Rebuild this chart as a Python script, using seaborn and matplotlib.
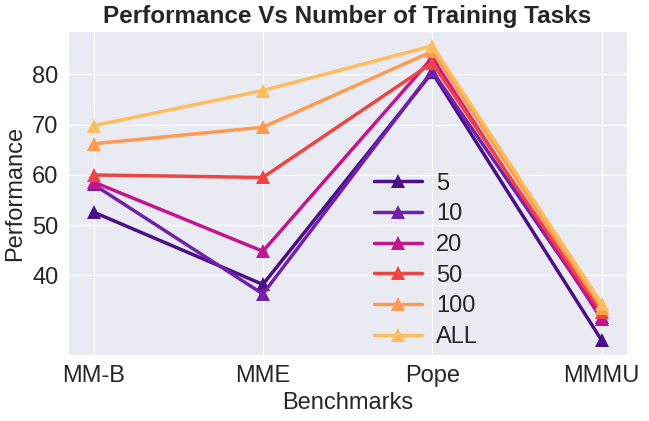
import pandas as pd
import matplotlib.pyplot as plt
import seaborn as sns

benchmarks = ["MM-B", "MME", "Pope", "MMMU"]
tasks = ["5", "10", "20", "50", "100", "ALL"]
perf_5 = [52.6, 38.2, 80.4, 27.1]
perf_10 = [58.1, 36.3, 80.7, 31.8]
perf_20 = [58.6, 44.8, 83.3, 31.3]
perf_50 = [60.0, 59.5, 82.3, 32.7]
perf_100 = [66.2, 69.5, 84.6, 33.6]
perf_all = [69.8, 76.8, 85.7, 34.4]
colors = ["#4b0f87", "#7122ad", "#c1168d", "#ef4444", "#fd9b50", "#ffbc5e"]

rows = []
for t, vals in zip(tasks, [perf_5, perf_10, perf_20, perf_50, perf_100, perf_all]):
    for b, v in zip(benchmarks, vals):
        rows.append({"Benchmarks": b, "Performance": v, "Tasks": t})
df = pd.DataFrame(rows)

sns.set_style("darkgrid")
plt.rcParams['font.family'] = ['Arial', 'Liberation Sans', 'DejaVu Sans']

fig, ax = plt.subplots(figsize=(6.49, 4.21), dpi=100)
sns.lineplot(data=df, x="Benchmarks", y="Performance", hue="Tasks",
             palette=colors, marker="^", markersize=10, markeredgewidth=0,
             linewidth=2.5, ax=ax)
ax.set_yticks([40, 50, 60, 70, 80])
ax.tick_params(labelsize=17)
ax.set_xlabel("Benchmarks", fontsize=17)
ax.set_ylabel("Performance", fontsize=17)
ax.set_title("Performance Vs Number of Training Tasks", fontsize=17.5, fontweight="bold")
ax.legend(loc="lower left", bbox_to_anchor=(0.51, -0.045), frameon=False,
          fontsize=17, handlelength=2.0, handletextpad=0.6, labelspacing=0.37)
plt.subplots_adjust(left=0.105, right=0.966, top=0.926, bottom=0.157)
plt.savefig("out.png")
